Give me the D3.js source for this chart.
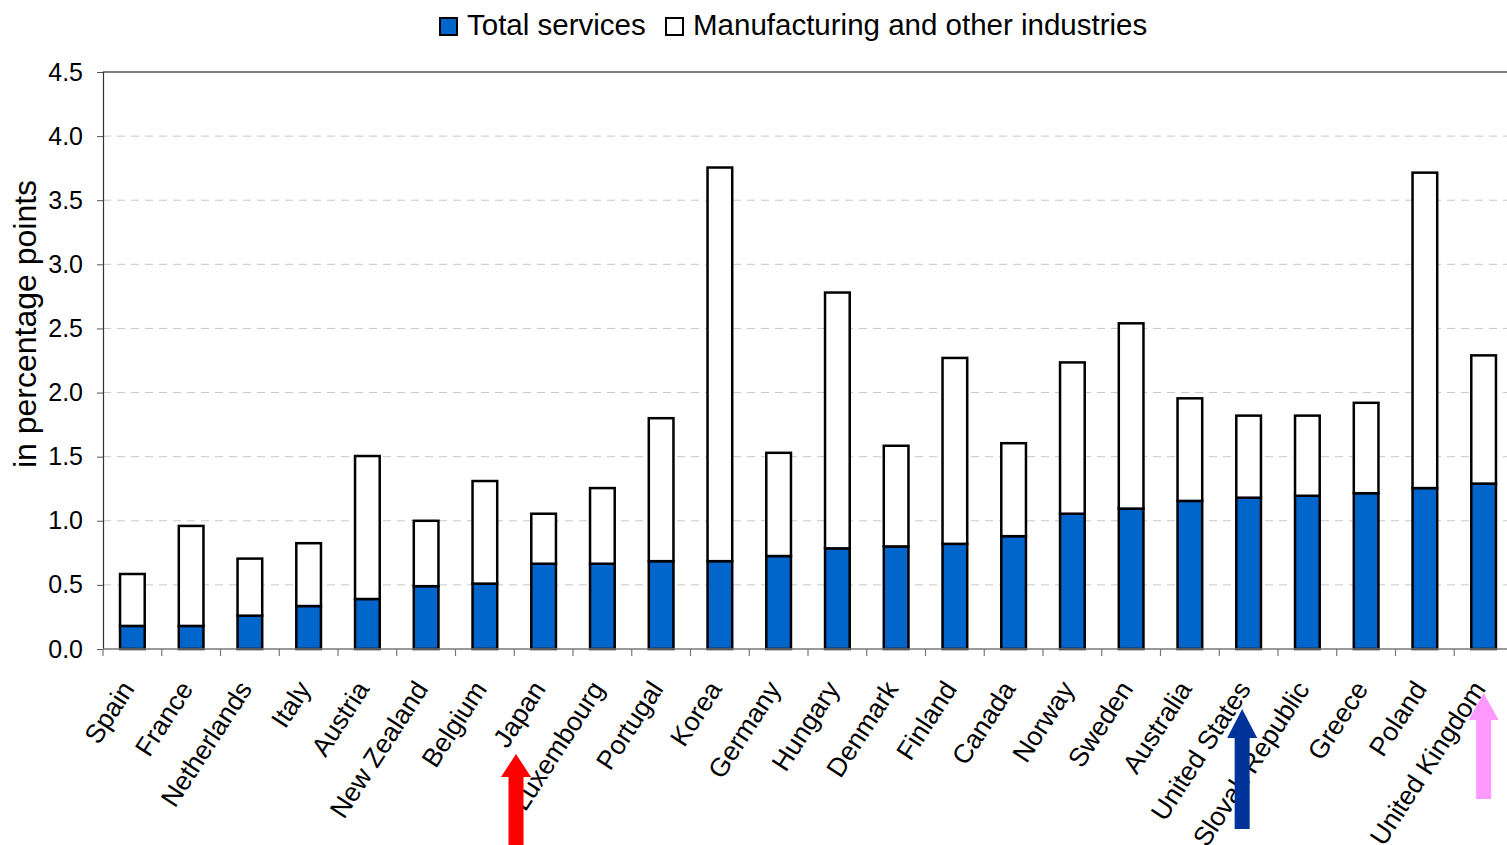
<!DOCTYPE html>
<html>
<head>
<meta charset="utf-8">
<script src="https://cdn.jsdelivr.net/npm/d3@7"></script>
<style>
  html, body { margin: 0; padding: 0; background: #fff; }
  svg { display: block; font-family: "Liberation Sans", Arial, sans-serif; }
</style>
</head>
<body>
<svg id="chart" width="1507" height="845"></svg>
<script>
// Countries, ordered by contribution of services
const countries = ["Spain", "France", "Netherlands", "Italy", "Austria", "New Zealand", "Belgium",
  "Japan", "Luxembourg", "Portugal", "Korea", "Germany", "Hungary", "Denmark", "Finland", "Canada",
  "Norway", "Sweden", "Australia", "United States", "Slovak Republic", "Greece", "Poland", "United Kingdom"];

// Contribution of total services (percentage points)
const services = [0.18, 0.18, 0.26, 0.335, 0.39, 0.49, 0.51, 0.665, 0.665, 0.685, 0.685, 0.725,
  0.785, 0.80, 0.82, 0.88, 1.055, 1.095, 1.155, 1.18, 1.195, 1.215, 1.255, 1.29];

// Contribution of manufacturing and other industries (percentage points)
const manufacturing = [0.405, 0.78, 0.445, 0.49, 1.115, 0.51, 0.80, 0.39, 0.59, 1.115, 3.07, 0.805,
  1.995, 0.785, 1.45, 0.725, 1.18, 1.445, 0.80, 0.64, 0.625, 0.705, 2.46, 1.0];

const yTicks = [0, 0.5, 1.0, 1.5, 2.0, 2.5, 3.0, 3.5, 4.0, 4.5];

const seriesNames = ["Total services", "Manufacturing and other industries"];
const seriesColors = ["#0066CC", "#FFFFFF"];

// Highlight arrows under selected countries (shift in category steps from the band centre)
const arrows = [
  { country: "Japan", color: "#FF0000", shift: -0.47, tip: 754, headH: 23, bottom: 845 },
  { country: "United States", color: "#003399", shift: -0.11, tip: 709, headH: 29, bottom: 829 },
  { country: "United Kingdom", color: "#FF99FF", shift: 0.0, tip: 693, headH: 27, bottom: 799 }
];

const svg = d3.select("#chart");
const W = 1507;
const plotLeft = 103, plotRight = 1513, plotTop = 72, plotBottom = 649;

const x = d3.scaleBand().domain(countries).range([plotLeft, plotRight]).paddingInner(0.58).paddingOuter(0.29);
const y = d3.scaleLinear().domain([0, 4.5]).range([plotBottom, plotTop]);
const step = x.step();
const cx = c => x(c) + x.bandwidth() / 2;

// Gridlines
svg.append("g").selectAll("line").data(yTicks.filter(d => d > 0 && d < 4.5)).join("line")
  .attr("x1", plotLeft).attr("x2", W)
  .attr("y1", d => y(d)).attr("y2", d => y(d))
  .attr("stroke", "#c8c8c8").attr("stroke-width", 1).attr("stroke-dasharray", "8,6");

// Top border
svg.append("line").attr("x1", plotLeft).attr("x2", W).attr("y1", y(4.5)).attr("y2", y(4.5))
  .attr("stroke", "#000").attr("stroke-width", 1.2);

// Stacked data
const rows = countries.map((c, i) => ({ country: c, services: services[i], manufacturing: manufacturing[i] }));
const stack = d3.stack().keys(["services", "manufacturing"])(rows);

svg.append("g").selectAll("g").data(stack).join("g")
  .attr("fill", (d, i) => seriesColors[i])
  .selectAll("rect").data(d => d).join("rect")
  .attr("x", d => x(d.data.country))
  .attr("width", x.bandwidth())
  .attr("y", d => y(d[1]))
  .attr("height", d => y(d[0]) - y(d[1]))
  .attr("stroke", "#000").attr("stroke-width", 2.5);

// Y axis
const yAxis = svg.append("g").attr("transform", `translate(${plotLeft},0)`)
  .call(d3.axisLeft(y).tickValues(yTicks).tickFormat(d3.format(".1f")).tickSize(6).tickPadding(14));
yAxis.select(".domain").attr("stroke", "#333").attr("stroke-width", 1.2);
yAxis.selectAll(".tick line").attr("stroke", "#555");
yAxis.selectAll(".tick text").attr("font-size", 25).attr("fill", "#000")
  .attr("font-family", "Liberation Sans, Arial, sans-serif");

// X axis line and boundary ticks
svg.append("line").attr("x1", plotLeft).attr("x2", W).attr("y1", plotBottom).attr("y2", plotBottom)
  .attr("stroke", "#777").attr("stroke-width", 1.5);
svg.append("g").selectAll("line").data(d3.range(countries.length + 1)).join("line")
  .attr("x1", i => plotLeft + i * step).attr("x2", i => plotLeft + i * step)
  .attr("y1", plotBottom).attr("y2", plotBottom + 7)
  .attr("stroke", "#777").attr("stroke-width", 1.2);

// Category labels
svg.append("g").selectAll("text").data(countries).join("text")
  .attr("transform", d => `translate(${cx(d) + 3},${plotBottom + 40}) rotate(-57)`)
  .attr("text-anchor", "end")
  .attr("font-size", 26.5)
  .attr("fill", "#000")
  .text(d => d);

// Y axis title
svg.append("text")
  .attr("transform", `translate(36,324) rotate(-90)`)
  .attr("text-anchor", "middle")
  .attr("font-size", 32)
  .attr("fill", "#000")
  .text("in percentage points");

// Legend
const legend = svg.append("g");
const legendItems = [
  { name: seriesNames[0], color: seriesColors[0], x: 440 },
  { name: seriesNames[1], color: seriesColors[1], x: 666 }
];
const li = legend.selectAll("g").data(legendItems).join("g")
  .attr("transform", d => `translate(${d.x},0)`);
li.append("rect").attr("x", 0).attr("y", 18).attr("width", 17).attr("height", 17)
  .attr("fill", d => d.color).attr("stroke", "#000").attr("stroke-width", 2);
li.append("text").attr("x", 27).attr("y", 35).attr("font-size", 29.5).attr("fill", "#000")
  .text(d => d.name);

// Arrows
const arrowG = svg.append("g");
arrows.forEach(a => {
  const ax = cx(a.country) + a.shift * step;
  const shaftW = 15, headW = 30;
  const p = [
    [ax, a.tip], [ax + headW / 2, a.tip + a.headH], [ax + shaftW / 2, a.tip + a.headH],
    [ax + shaftW / 2, a.bottom], [ax - shaftW / 2, a.bottom], [ax - shaftW / 2, a.tip + a.headH],
    [ax - headW / 2, a.tip + a.headH]
  ];
  arrowG.append("path").attr("d", d3.line()(p) + "Z").attr("fill", a.color);
});
</script>
</body>
</html>
